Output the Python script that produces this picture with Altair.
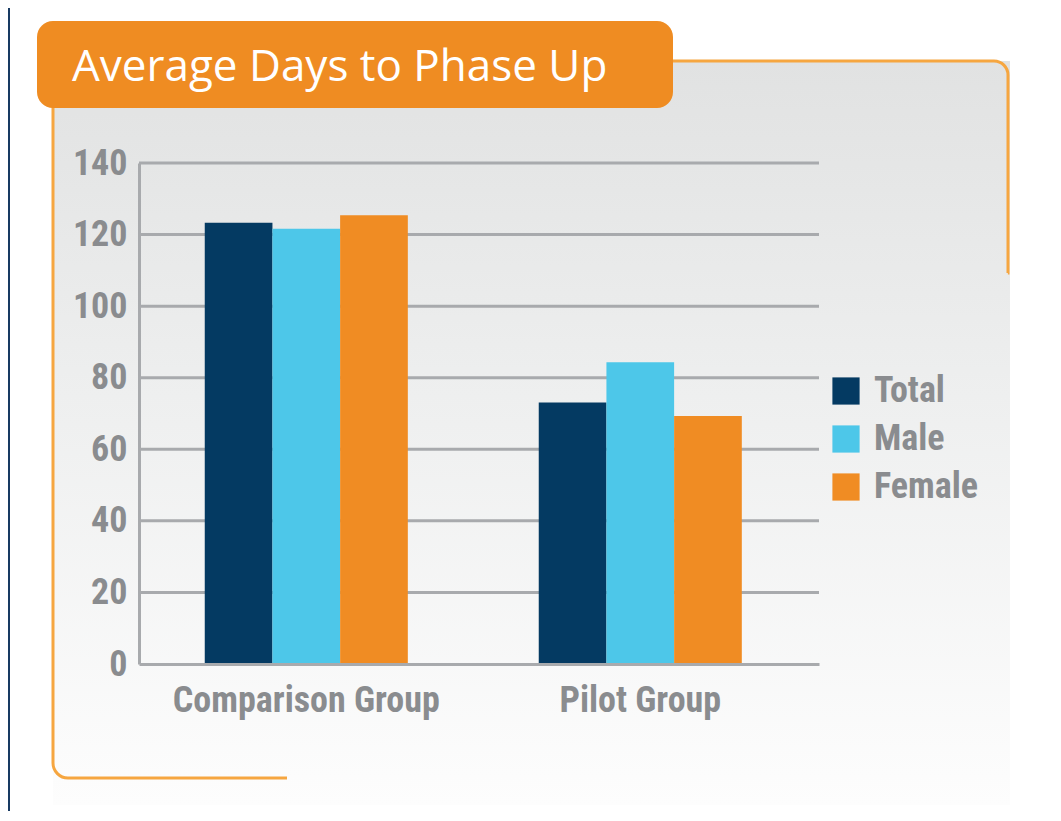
import altair as alt
import pandas as pd

# ---------------- data ----------------
TITLE = "Average Days to Phase Up"
groups = ["Comparison Group", "Pilot Group"]
series = ["Total", "Male", "Female"]
total_values = [123.3, 73.1]
male_values = [121.6, 84.3]
female_values = [125.4, 69.3]
y_ticks = [0, 20, 40, 60, 80, 100, 120, 140]

colors = ["#043a62", "#4dc7e9", "#f08c23"]

rows = []
for s, vals in zip(series, [total_values, male_values, female_values]):
    for g, v in zip(groups, vals):
        rows.append({"group": g, "series": s, "value": v})
df = pd.DataFrame(rows)
grid_df = pd.DataFrame({"tick": [t for t in y_ticks if t > 0]})
one = pd.DataFrame({"k": [0]})

# ---------------- layout (page px -> plot-relative px) ----------------
X0, Y0 = 139, 163          # page position of plot origin
W, H = 680, 501            # plot area
PAD_L, PAD_T = X0 - 8, Y0 - 8
TOTAL_W, TOTAL_H = 1043, 803


def px(x):
    return x - X0


def py(y):
    return y - Y0


NARROW = "Roboto Condensed, DejaVu Sans Condensed, Liberation Sans Narrow, Roboto"
GRAY_TXT = "#8a8c8f"
GRID = "#a8aaad"
ORANGE = "#ef8c22"
ORANGE_LINE = "#f6a640"

# navy page border strip
navy = alt.Chart(one).mark_rect(color="#183a62").encode(
    x=alt.value(px(8)), x2=alt.value(px(10)),
    y=alt.value(py(8)), y2=alt.value(py(8 + TOTAL_H)),
)

# gradient panel
grad = alt.LinearGradient(
    gradient="linear",
    stops=[alt.GradientStop(color="#e1e2e2", offset=0),
           alt.GradientStop(color="#eeefef", offset=0.45),
           alt.GradientStop(color="#fdfdfd", offset=1)],
    x1=0, x2=0, y1=0, y2=1,
)
panel = alt.Chart(one).mark_rect(fill=grad).encode(
    x=alt.value(px(53)), x2=alt.value(px(1010)),
    y=alt.value(py(61)), y2=alt.value(py(805)),
)

# right orange line (top edge + rounded corner + right side)
rx1, rx2, ry1, ry2, rr = 600, 1008, 61, 273, 14
r_len = (rx2 - rx1 - rr) + 1.5708 * rr + (ry2 - ry1 - rr)
rline = alt.Chart(one).mark_rect(
    fillOpacity=0, stroke=ORANGE_LINE, strokeWidth=3,
    cornerRadiusTopRight=rr, strokeDash=[r_len, 4000],
).encode(
    x=alt.value(px(rx1)), x2=alt.value(px(rx2)),
    y=alt.value(py(ry1)), y2=alt.value(py(ry2)),
)

# left orange line (left side + rounded corner + bottom edge)
lx1, lx2, ly1, ly2, lr = 53, 287, 90, 778, 15
l_gap = (lx2 - lx1) + (ly2 - ly1)
lline = alt.Chart(one).mark_rect(
    fillOpacity=0, stroke=ORANGE_LINE, strokeWidth=3,
    cornerRadiusBottomLeft=lr, strokeDash=[0, l_gap, 4000],
).encode(
    x=alt.value(px(lx1)), x2=alt.value(px(lx2)),
    y=alt.value(py(ly1)), y2=alt.value(py(ly2)),
)

# title box
tbox = alt.Chart(one).mark_rect(color=ORANGE, cornerRadius=16).encode(
    x=alt.value(px(37)), x2=alt.value(px(673)),
    y=alt.value(py(21)), y2=alt.value(py(108)),
)
ttext = alt.Chart(one).mark_text(
    text=TITLE, align="left", baseline="alphabetic",
    font="Open Sans", fontSize=44, color="white",
).encode(x=alt.value(px(72)), y=alt.value(py(81)))

yscale = alt.Scale(domain=[0, 140], nice=False, zero=True)
yaxis = alt.Axis(
    values=y_ticks, grid=False, ticks=False, domainColor=GRID,
    domainWidth=3, labelFont=NARROW, labelFontSize=36,
    labelFontWeight="bold", labelColor=GRAY_TXT, labelPadding=12,
    labelLimit=400, zindex=1,
)

grid = alt.Chart(grid_df).mark_rule(color=GRID, strokeWidth=3).encode(
    y=alt.Y("tick:Q", scale=yscale, title=None, axis=yaxis),
)

bars = alt.Chart(df).mark_bar(strokeWidth=0).encode(
    x=alt.X(
        "group:N", sort=groups, title=None,
        scale=alt.Scale(paddingInner=0.392, paddingOuter=0.214, align=0.46),
        axis=alt.Axis(
            labelAngle=0, ticks=False, domainColor=GRID, domainWidth=3,
            labelFont=NARROW, labelFontSize=36, labelFontWeight="bold",
            labelColor=GRAY_TXT, labelPadding=19, labelLimit=500, zindex=1,
        ),
    ),
    xOffset=alt.XOffset("series:N", sort=series,
                        scale=alt.Scale(domain=series, paddingInner=0, paddingOuter=0)),
    y=alt.Y("value:Q", scale=yscale, title=None, axis=yaxis),
    color=alt.Color(
        "series:N", sort=series, title=None,
        scale=alt.Scale(domain=series, range=colors),
        legend=alt.Legend(
            orient="none", legendX=px(828), legendY=py(373),
            symbolType="square", symbolSize=740, symbolStrokeWidth=0,
            symbolOpacity=1, labelFont=NARROW, labelFontSize=36,
            labelFontWeight="bold", labelColor=GRAY_TXT, labelOffset=10,
            labelLimit=400, rowPadding=12, padding=0,
        ),
    ),
)

chart = alt.layer(navy, panel, rline, lline, tbox, ttext, grid, bars).properties(
    width=W, height=H,
    padding={"left": PAD_L, "top": PAD_T,
             "right": TOTAL_W - PAD_L - W, "bottom": TOTAL_H - PAD_T - H},
    autosize=alt.AutoSizeParams(type="none"),
    background="white",
).configure_view(strokeWidth=0)

chart.save("out.html", embed_options={"renderer": "svg", "actions": False})
